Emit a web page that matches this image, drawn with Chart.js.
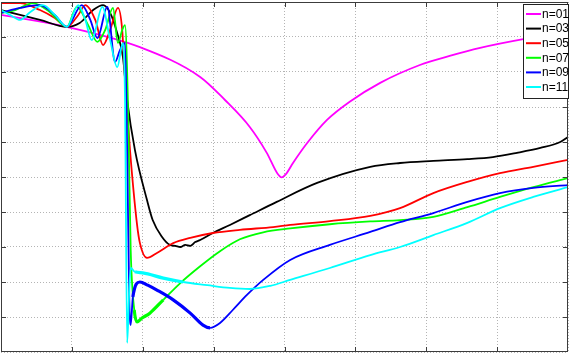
<!DOCTYPE html>
<html>
<head>
<meta charset="utf-8">
<script src="https://cdn.jsdelivr.net/npm/chart.js@4"></script>
<style>
  html, body { margin: 0; padding: 0; background: #fff; }
  #wrap { width: 570px; height: 353px; }
</style>
</head>
<body>
<div id="wrap"><canvas id="chart" width="570" height="353"></canvas></div>
<script>
// axis ranges (no tick labels visible in the original, grid only)
const xRange = [0, 8];
const yRange = [0, 10];

const seriesNames = ['n=01', 'n=03', 'n=05', 'n=07', 'n=09', 'n=11'];
const seriesColors = ['#ff00ff', '#000000', '#ff0000', '#00ff00', '#0000ff', '#00ffff'];

// [x, y] pairs
const n01 = [
  [0, 9.63], [0.93, 9.29], [1.96, 8.71], [2.81, 7.86], [3.16, 7.2], [3.51, 6.43],
  [3.75, 5.69], [3.90, 5.1], [3.96, 4.99], [4.02, 5.08], [4.12, 5.40], [4.32, 5.97],
  [4.60, 6.63], [4.92, 7.15], [5.35, 7.69], [5.91, 8.2], [6.33, 8.46], [6.76, 8.69],
  [7.37, 8.94], [8.0, 9.14]
];
const n03 = [
  [0, 9.77], [0.55, 9.49], [0.93, 9.29], [1.11, 9.40], [1.30, 9.77], [1.44, 9.91],
  [1.54, 9.69], [1.64, 9.11], [1.72, 8.43], [1.78, 7.2], [1.89, 5.77], [2.06, 4.34],
  [2.14, 3.77], [2.27, 3.29], [2.38, 3.06], [2.46, 3.03], [2.53, 3.0], [2.60, 3.06],
  [2.67, 3.03], [2.74, 3.14], [2.81, 3.20], [2.99, 3.40], [3.23, 3.63], [3.51, 3.91],
  [3.89, 4.29], [4.46, 4.83], [5.21, 5.29], [5.63, 5.40], [6.10, 5.46], [6.58, 5.51],
  [6.94, 5.57], [7.28, 5.69], [7.61, 5.83], [7.89, 6.0], [8.0, 6.14]
];
const n05 = [
  [0, 9.97], [0.27, 9.97], [0.55, 9.77], [0.76, 9.54], [0.93, 9.29], [1.09, 9.63],
  [1.19, 9.91], [1.33, 9.49], [1.44, 8.77], [1.54, 9.2], [1.65, 9.83], [1.71, 9.2],
  [1.75, 7.77], [1.82, 5.77], [1.92, 3.63], [1.96, 3.11], [2.06, 2.69], [2.20, 2.83],
  [2.43, 3.11], [2.67, 3.26], [2.99, 3.4], [3.37, 3.49], [3.84, 3.57], [4.08, 3.63],
  [4.64, 3.74], [5.21, 3.89], [5.63, 4.11], [6.10, 4.54], [6.58, 4.86], [7.04, 5.11],
  [7.51, 5.29], [8.0, 5.49]
];
const n07 = [
  [0, 9.69], [0.2, 9.77], [0.45, 9.97], [0.69, 9.71], [0.93, 9.29], [1.07, 9.86],
  [1.23, 9.34], [1.36, 8.86], [1.47, 9.2], [1.58, 9.83], [1.65, 8.83], [1.71, 9.2],
  [1.75, 9.34], [1.79, 7.2], [1.83, 2.91], [1.88, 1.2], [1.92, 0.86], [1.99, 0.97],
  [2.10, 1.11], [2.29, 1.49], [2.53, 1.97], [2.81, 2.45], [3.09, 2.88], [3.37, 3.22],
  [3.70, 3.42], [4.08, 3.53], [4.64, 3.65], [5.21, 3.73], [5.63, 3.77], [6.10, 3.86],
  [6.58, 4.14], [7.04, 4.43], [7.51, 4.71], [8.0, 4.97]
];
const n09 = [
  [0, 9.69], [0.27, 9.83], [0.55, 9.91], [0.76, 9.63], [0.93, 9.29], [1.14, 9.91],
  [1.26, 9.49], [1.36, 8.97], [1.50, 9.86], [1.61, 8.29], [1.68, 8.63], [1.75, 8.83],
  [1.78, 5.77], [1.81, 1.49], [1.83, 0.77], [1.86, 1.57], [1.96, 2.0], [2.07, 1.91],
  [2.20, 1.77], [2.43, 1.49], [2.67, 1.11], [2.85, 0.77], [2.95, 0.69], [3.09, 0.83],
  [3.27, 1.2], [3.47, 1.63], [3.70, 2.06], [4.08, 2.63], [4.64, 3.06], [5.21, 3.43],
  [5.63, 3.71], [6.10, 3.97], [6.58, 4.29], [7.04, 4.54], [7.51, 4.69], [8.0, 4.77]
];
const n11 = [
  [0, 9.77], [0.13, 9.63], [0.27, 9.49], [0.41, 9.71], [0.59, 9.91], [0.76, 9.63],
  [0.93, 9.29], [1.09, 9.91], [1.19, 9.49], [1.28, 8.91], [1.43, 9.86], [1.54, 8.91],
  [1.64, 8.14], [1.72, 8.83], [1.75, 7.2], [1.78, 0.26], [1.81, 1.77], [1.83, 2.4],
  [1.89, 2.29], [2.00, 2.26], [2.29, 2.11], [2.57, 2.0], [2.91, 1.91], [3.23, 1.83],
  [3.51, 1.8], [3.80, 1.89], [4.08, 2.06], [4.64, 2.4], [5.21, 2.77], [5.63, 3.0],
  [6.10, 3.34], [6.58, 3.69], [7.04, 4.11], [7.51, 4.43], [8.0, 4.71]
];
const allSeries = [n01, n03, n05, n07, n09, n11];

// noisy stretch right after the drop is drawn thicker
const noisyUntil = [0, 0, 0, 2.4, 3.0, 2.7];

const frameColor = '#3c3c3c';

// frame, inward ticks and the boxed legend in the top right corner
const framePlugin = {
  id: 'frame',
  afterDraw(chart) {
    const { ctx, chartArea: a, scales } = chart;
    ctx.save();
    ctx.strokeStyle = frameColor;
    ctx.lineWidth = 1;
    ctx.strokeRect(a.left + 0.5, a.top + 0.5, a.right - a.left - 1, a.bottom - a.top - 1);
    ctx.beginPath();
    for (let v = xRange[0] + 1; v < xRange[1]; v++) {
      const px = Math.round(scales.x.getPixelForValue(v)) + 0.5;
      ctx.moveTo(px, a.bottom); ctx.lineTo(px, a.bottom - 5);
      ctx.moveTo(px, a.top); ctx.lineTo(px, a.top + 5);
    }
    for (let v = yRange[0] + 1; v < yRange[1]; v++) {
      const py = Math.round(scales.y.getPixelForValue(v)) + 0.5;
      ctx.moveTo(a.left, py); ctx.lineTo(a.left + 5, py);
      ctx.moveTo(a.right, py); ctx.lineTo(a.right - 5, py);
    }
    ctx.stroke();

    // legend
    const bx = 523.5, by = 4.5, bw = 45, bh = 94;
    ctx.fillStyle = '#fff';
    ctx.fillRect(bx, by, bw, bh);
    ctx.strokeStyle = '#222';
    ctx.strokeRect(bx, by, bw, bh);
    ctx.font = '12px "Liberation Sans", Arial, sans-serif';
    ctx.textBaseline = 'middle';
    seriesNames.forEach((name, i) => {
      const y = 14 + i * 14.6;
      ctx.strokeStyle = seriesColors[i];
      ctx.lineWidth = 2;
      ctx.beginPath();
      ctx.moveTo(526, y); ctx.lineTo(541, y);
      ctx.stroke();
      ctx.fillStyle = '#000';
      ctx.fillText(name, 542, y + 0.5);
    });
    ctx.restore();
  }
};

const datasets = allSeries.map((pts, i) => ({
  label: seriesNames[i],
  data: pts.map(p => ({ x: p[0], y: p[1] })),
  borderColor: seriesColors[i],
  borderWidth: 1.8,
  pointRadius: 0,
  showLine: true,
  fill: false,
  cubicInterpolationMode: 'monotone',
  order: allSeries.length - 1 - i,
  segment: {
    borderWidth: c => (c.p0.parsed.x >= 1.85 && c.p1.parsed.x <= noisyUntil[i]) ? 3.2 : 1.8
  }
}));

new Chart(document.getElementById('chart'), {
  type: 'scatter',
  data: { datasets: datasets },
  plugins: [framePlugin],
  options: {
    responsive: false,
    animation: false,
    layout: { padding: { left: 1, top: 2, right: 2, bottom: 1 } },
    plugins: {
      legend: { display: false },
      tooltip: { enabled: false }
    },
    scales: {
      x: {
        type: 'linear',
        min: xRange[0], max: xRange[1],
        ticks: { display: false, stepSize: 1 },
        border: { display: false, dash: [1, 2] },
        grid: { color: '#b4b4b4', drawTicks: false }
      },
      y: {
        type: 'linear',
        min: yRange[0], max: yRange[1],
        ticks: { display: false, stepSize: 1 },
        border: { display: false, dash: [1, 2] },
        grid: { color: '#b4b4b4', drawTicks: false }
      }
    }
  }
});
</script>
</body>
</html>
